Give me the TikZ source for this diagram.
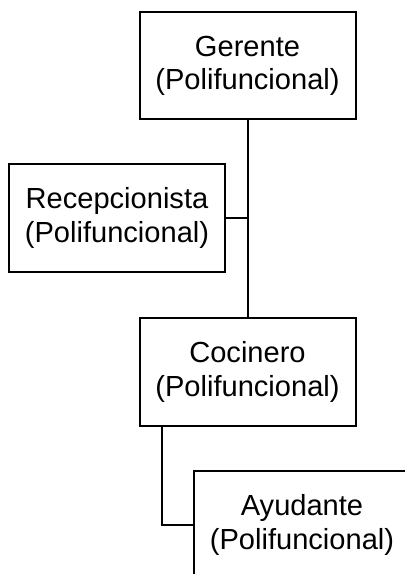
\documentclass[tikz,border=0pt]{standalone}
\usepackage{fontspec}
\setmainfont{Liberation Sans}
\usetikzlibrary{calc}

\begin{document}
\begin{tikzpicture}[x=0.75pt, y=-0.75pt, line width=1.5pt,
    cargo/.style={rectangle, draw, align=center, inner sep=0pt, %
      minimum width=162pt, minimum height=80.5pt, %
      font=\fontsize{21.8pt}{24.8pt}\selectfont}]
  \useasboundingbox (0,0) rectangle (404,574);
%
  \node[cargo] (Gerente) at (247.5,65.5) {Gerente\\(Polifuncional)};
  \node[cargo] (Recepcionista) at (117,218) {Recepcionista\\(Polifuncional)};
  \node[cargo] (Cocinero) at (247.5,372) {Cocinero\\(Polifuncional)};
  \node[cargo] (Ayudante) at (302,525) {Ayudante\\(Polifuncional)};
%
  \draw (Gerente) -- (Cocinero);
  \draw (Recepcionista.east) -- (Recepcionista.east -| Gerente.south);
  \draw ($(Cocinero.south west)+(23,0)$) |- (Ayudante.west);
\end{tikzpicture}
\end{document}
